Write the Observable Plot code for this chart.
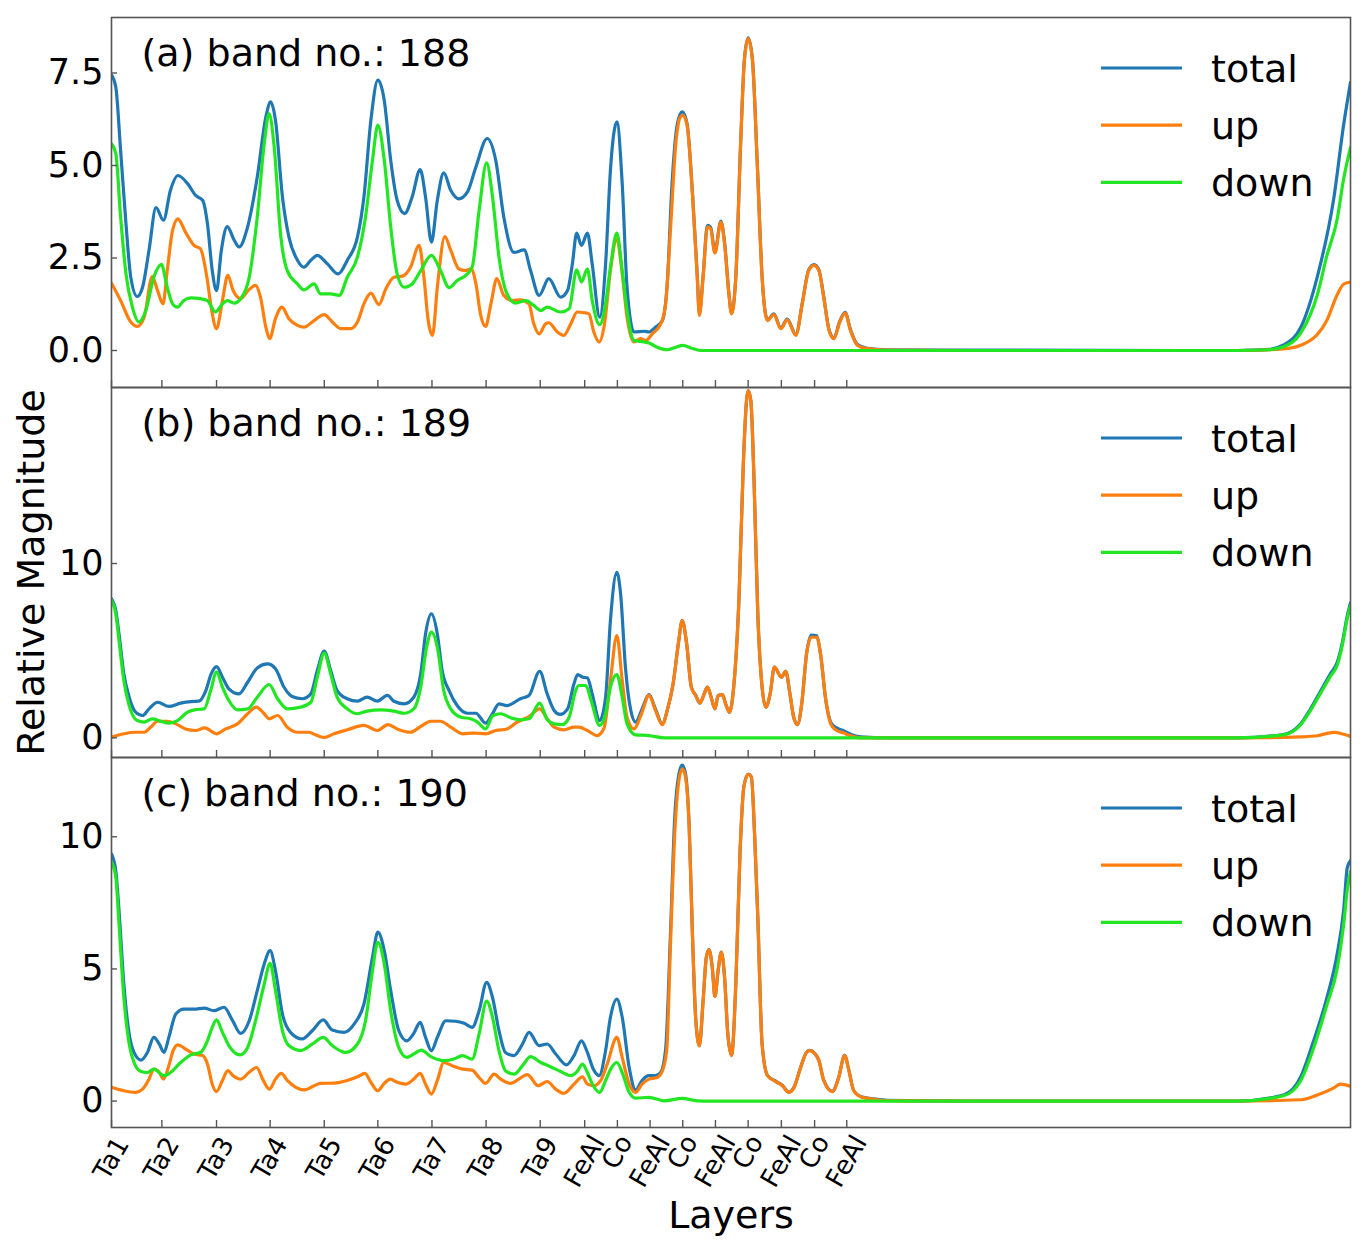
<!DOCTYPE html>
<html><head><meta charset="utf-8">
<script src="https://cdn.jsdelivr.net/npm/d3@7"></script>
<script src="https://cdn.jsdelivr.net/npm/@observablehq/plot@0.6"></script>
<style>
body{margin:0;background:#fff;}
#wrap{position:relative;width:1370px;height:1246px;overflow:hidden;}
#wrap svg{position:absolute;left:0;}
</style></head><body><div id="wrap"></div>
<script>
// x positions are in layer units (Ta spacing = 1)
const layerTicks = [0, 0.94, 1.96, 2.96, 3.97, 4.97, 5.98, 6.99, 8.0, 8.83, 9.44, 10.05, 10.66, 11.27, 11.88, 12.50, 13.12, 13.72];
const layerLabels = ["Ta1","Ta2","Ta3","Ta4","Ta5","Ta6","Ta7","Ta8","Ta9","FeAl","Co","FeAl","Co","FeAl","Co","FeAl","Co","FeAl"];
const seriesNames = ["total", "up", "down"];
const panelTitles = ["(a) band no.: 188", "(b) band no.: 189", "(c) band no.: 190"];
const yTicksA = [0, 2.5, 5, 7.5];
const yTicksB = [0, 10];
const yTicksC = [0, 5, 10];

const aTotal = [[0,7.45],[0.08,7.12],[0.17,5.41],[0.27,3.43],[0.36,1.98],[0.48,1.46],[0.58,1.71],[0.70,2.71],[0.83,3.86],[0.97,3.52],[1.10,4.33],[1.24,4.73],[1.42,4.51],[1.57,4.19],[1.70,4.06],[1.79,3.43],[1.88,2.16],[1.96,1.62],[2.05,2.71],[2.16,3.35],[2.29,2.98],[2.38,2.80],[2.54,3.34],[2.72,4.69],[2.88,6.31],[2.97,6.72],[3.06,6.22],[3.19,4.15],[3.31,3.07],[3.47,2.44],[3.59,2.25],[3.72,2.44],[3.84,2.57],[4.03,2.34],[4.23,2.07],[4.40,2.44],[4.59,3.07],[4.71,4.15],[4.84,6.22],[4.97,7.31],[5.09,6.76],[5.21,5.14],[5.33,4.06],[5.47,3.70],[5.61,4.15],[5.76,4.89],[5.86,4.15],[5.97,2.93],[6.08,4.06],[6.20,4.80],[6.33,4.33],[6.48,4.10],[6.64,4.28],[6.80,4.96],[7.01,5.73],[7.17,5.14],[7.32,3.61],[7.51,2.65],[7.70,2.72],[7.82,2.16],[7.98,1.49],[8.16,1.94],[8.38,1.44],[8.51,1.62],[8.60,2.34],[8.68,3.17],[8.77,2.84],[8.88,3.17],[8.97,2.34],[9.11,0.90],[9.22,2.34],[9.31,4.87],[9.43,6.18],[9.53,4.51],[9.62,1.71],[9.75,0.50],[9.94,0.52],[10.03,0.50],[10.15,0.63],[10.28,0.81],[10.37,1.80],[10.46,4.51],[10.56,6.13],[10.65,6.45],[10.74,6.13],[10.84,4.28],[10.93,2.03],[10.97,1.00],[11.04,2.03],[11.12,3.38],[11.18,3.33],[11.26,2.67],[11.37,3.50],[11.44,2.92],[11.52,1.56],[11.57,1.02],[11.65,2.00],[11.74,5.61],[11.81,7.87],[11.88,8.45],[11.96,7.87],[12.05,5.07],[12.14,2.00],[12.24,0.83],[12.36,0.99],[12.49,0.61],[12.61,0.85],[12.77,0.43],[12.89,1.28],[13.01,2.18],[13.11,2.32],[13.20,2.18],[13.29,1.46],[13.39,0.56],[13.48,0.34],[13.59,0.79],[13.69,1.03],[13.79,0.56],[13.92,0.16],[14.10,0.06],[14.48,0.02],[16,0.01],[20,0],[21.0,0],[21.6,0.03],[21.87,0.15],[22.19,0.62],[22.5,1.99],[22.81,4.13],[22.99,6.08],[23.12,7.25]];
const aUp = [[0,1.82],[0.17,1.35],[0.36,0.77],[0.48,0.65],[0.61,0.90],[0.76,2.00],[0.86,1.62],[0.96,1.26],[1.04,2.16],[1.14,3.25],[1.24,3.56],[1.38,3.20],[1.54,2.84],[1.66,2.75],[1.78,1.98],[1.87,1.08],[1.96,0.59],[2.07,1.35],[2.17,2.03],[2.27,1.62],[2.41,1.40],[2.55,1.62],[2.69,1.76],[2.78,1.44],[2.88,0.63],[2.95,0.32],[3.06,0.86],[3.18,1.17],[3.31,0.86],[3.47,0.68],[3.59,0.63],[3.78,0.81],[3.97,0.97],[4.12,0.77],[4.28,0.59],[4.46,0.59],[4.59,0.77],[4.71,1.26],[4.84,1.55],[4.99,1.24],[5.12,1.67],[5.27,1.98],[5.43,2.01],[5.58,2.25],[5.74,2.84],[5.83,1.98],[5.91,0.81],[5.99,0.41],[6.08,1.71],[6.22,3.08],[6.33,2.71],[6.48,2.21],[6.61,2.16],[6.71,2.21],[6.80,1.80],[6.89,0.95],[6.98,0.65],[7.08,1.26],[7.19,1.94],[7.32,1.49],[7.48,1.35],[7.63,1.37],[7.79,1.26],[7.88,0.72],[7.98,0.45],[8.10,0.72],[8.16,0.75],[8.32,0.50],[8.44,0.41],[8.57,0.72],[8.69,1.04],[8.82,1.02],[8.91,0.99],[9.00,0.50],[9.10,0.23],[9.20,0.72],[9.31,2.16],[9.43,3.02],[9.53,2.07],[9.62,0.90],[9.75,0.23],[9.87,0.32],[9.97,0.27],[10.09,0.45],[10.25,0.72],[10.34,1.26],[10.43,3.25],[10.53,5.59],[10.61,6.30],[10.66,6.36],[10.74,6.09],[10.84,4.24],[10.93,1.98],[10.97,0.95],[11.04,1.98],[11.12,3.34],[11.18,3.29],[11.26,2.63],[11.37,3.47],[11.44,2.89],[11.52,1.53],[11.57,0.99],[11.65,1.98],[11.74,5.59],[11.81,7.85],[11.88,8.43],[11.96,7.85],[12.05,5.05],[12.14,1.98],[12.24,0.81],[12.36,0.97],[12.49,0.59],[12.61,0.83],[12.77,0.41],[12.89,1.26],[13.01,2.16],[13.11,2.30],[13.20,2.16],[13.29,1.44],[13.39,0.54],[13.48,0.32],[13.59,0.77],[13.69,1.01],[13.79,0.54],[13.92,0.14],[14.10,0.05],[14.48,0.01],[16,0],[21.0,0],[21.87,0.04],[22.19,0.14],[22.5,0.43],[22.68,0.82],[22.87,1.50],[22.99,1.79],[23.12,1.85]];
const aDown = [[0,5.59],[0.08,5.32],[0.17,3.61],[0.27,2.07],[0.39,1.17],[0.51,0.77],[0.64,1.08],[0.79,1.98],[0.93,2.33],[1.04,1.71],[1.14,1.26],[1.23,1.17],[1.35,1.35],[1.48,1.42],[1.66,1.40],[1.79,1.35],[1.94,1.04],[2.07,1.26],[2.16,1.35],[2.29,1.28],[2.41,1.40],[2.57,1.98],[2.72,3.61],[2.85,5.59],[2.94,6.40],[3.03,5.59],[3.16,3.07],[3.28,2.16],[3.47,1.80],[3.59,1.64],[3.78,1.80],[3.90,1.53],[4.09,1.53],[4.25,1.49],[4.40,1.98],[4.59,2.53],[4.74,3.61],[4.87,5.14],[4.97,6.09],[5.09,5.14],[5.21,3.34],[5.33,2.07],[5.46,1.71],[5.61,1.80],[5.77,2.16],[5.97,2.57],[6.14,2.16],[6.30,1.70],[6.45,1.89],[6.61,2.03],[6.73,2.25],[6.86,3.79],[7.00,5.07],[7.11,4.15],[7.23,2.53],[7.38,1.53],[7.54,1.28],[7.73,1.35],[7.88,1.22],[8.01,1.08],[8.13,1.17],[8.38,1.04],[8.54,1.13],[8.68,2.18],[8.77,1.85],[8.88,2.21],[8.97,1.35],[9.11,0.70],[9.22,1.26],[9.31,2.25],[9.43,3.17],[9.53,2.16],[9.62,1.08],[9.75,0.27],[9.94,0.23],[10.03,0.20],[10.18,0.09],[10.37,0.02],[10.53,0.09],[10.66,0.14],[10.81,0.07],[10.99,0],[21.0,0],[21.6,0.02],[21.87,0.10],[22.19,0.47],[22.5,1.50],[22.68,2.57],[22.87,3.54],[22.99,4.62],[23.12,5.49]];

const bTotal = [[0,7.97],[0.08,7.30],[0.14,5.96],[0.23,3.67],[0.33,2.33],[0.45,1.47],[0.58,1.28],[0.70,1.66],[0.86,2.04],[1.07,1.80],[1.29,1.99],[1.48,2.08],[1.63,2.10],[1.76,2.71],[1.86,3.67],[1.96,4.09],[2.07,3.48],[2.19,2.81],[2.38,2.52],[2.54,3.19],[2.72,4.01],[2.91,4.24],[3.06,3.96],[3.22,2.90],[3.37,2.37],[3.56,2.24],[3.72,2.52],[3.84,3.86],[3.97,4.97],[4.09,3.86],[4.21,2.71],[4.40,2.24],[4.59,2.10],[4.77,2.33],[4.96,2.10],[5.15,2.43],[5.27,2.10],[5.46,1.95],[5.64,2.33],[5.77,3.67],[5.86,5.96],[5.97,7.11],[6.08,5.96],[6.17,3.86],[6.30,2.71],[6.45,1.85],[6.64,1.41],[6.80,1.41],[6.98,0.84],[7.11,1.38],[7.23,1.95],[7.38,1.85],[7.63,2.24],[7.79,2.43],[7.99,3.82],[8.13,2.52],[8.26,1.57],[8.37,1.34],[8.51,1.66],[8.63,3.10],[8.70,3.63],[8.79,3.48],[8.88,3.44],[8.97,2.52],[9.11,0.99],[9.22,2.33],[9.31,6.73],[9.43,9.50],[9.50,8.26],[9.59,4.05],[9.69,1.57],[9.78,0.90],[9.89,1.57],[10.03,2.48],[10.15,1.66],[10.28,0.80],[10.37,1.57],[10.48,3.10],[10.58,5.45],[10.65,6.73],[10.73,5.45],[10.82,2.91],[10.90,2.45],[10.98,1.99],[11.06,2.52],[11.12,2.91],[11.19,2.33],[11.26,1.66],[11.32,2.43],[11.40,2.48],[11.46,1.95],[11.53,1.47],[11.61,2.91],[11.71,8.07],[11.79,15.72],[11.85,19.35],[11.88,19.92],[11.93,19.35],[11.99,14.76],[12.06,7.11],[12.14,2.91],[12.21,1.76],[12.29,2.52],[12.37,4.05],[12.50,3.48],[12.58,3.82],[12.66,2.52],[12.73,1.18],[12.80,0.76],[12.88,1.95],[12.97,4.82],[13.06,5.90],[13.16,5.85],[13.23,4.82],[13.33,2.14],[13.42,0.90],[13.51,0.60],[13.67,0.40],[13.79,0.20],[13.98,0.05],[14.5,0],[21.0,0],[21.87,0.19],[22.19,0.80],[22.37,1.64],[22.56,2.67],[22.75,3.70],[22.87,4.32],[22.96,5.35],[23.06,7.00],[23.12,7.75]];
const bUp = [[0,0.04],[0.23,0.23],[0.42,0.32],[0.61,0.32],[0.73,0.61],[0.86,0.95],[1.04,0.95],[1.20,0.80],[1.38,0.51],[1.57,0.42],[1.74,0.57],[1.96,0.23],[2.13,0.51],[2.35,0.80],[2.54,1.38],[2.70,1.76],[2.85,1.38],[2.94,1.09],[3.10,1.28],[3.28,0.61],[3.47,0.32],[3.68,0.32],[3.84,0.13],[3.97,0.02],[4.15,0.23],[4.40,0.46],[4.71,0.71],[4.96,0.42],[5.16,0.76],[5.33,0.51],[5.58,0.32],[5.77,0.65],[5.96,0.95],[6.14,0.95],[6.33,0.61],[6.55,0.23],[6.76,0.27],[6.98,0.23],[7.17,0.42],[7.38,0.51],[7.57,0.90],[7.79,1.22],[7.99,1.66],[8.13,1.10],[8.26,0.61],[8.44,0.46],[8.63,0.61],[8.72,0.61],[8.88,0.42],[9.06,0.13],[9.19,0.55],[9.31,3.29],[9.43,5.87],[9.53,3.29],[9.62,1.18],[9.75,0.51],[9.89,1.38],[10.03,2.43],[10.15,1.57],[10.28,0.76],[10.37,1.57],[10.48,3.10],[10.58,5.45],[10.65,6.73],[10.73,5.45],[10.82,2.91],[10.90,2.43],[10.98,1.99],[11.06,2.52],[11.12,2.91],[11.19,2.33],[11.26,1.66],[11.32,2.43],[11.40,2.48],[11.46,1.95],[11.53,1.47],[11.61,2.91],[11.71,8.07],[11.79,15.72],[11.85,19.35],[11.88,19.92],[11.93,19.35],[11.99,14.76],[12.06,7.11],[12.14,2.91],[12.21,1.76],[12.29,2.52],[12.37,4.05],[12.50,3.48],[12.58,3.82],[12.66,2.52],[12.73,1.18],[12.80,0.76],[12.88,1.95],[12.97,4.82],[13.06,5.77],[13.16,5.77],[13.23,4.82],[13.33,2.14],[13.42,0.80],[13.51,0.46],[13.67,0.27],[13.79,0.11],[13.98,0],[21.0,0],[21.87,0.02],[22.19,0.05],[22.5,0.12],[22.81,0.31],[22.99,0.20],[23.12,0.08]];
const bDown = [[0,7.88],[0.08,7.11],[0.14,5.58],[0.23,3.29],[0.33,1.85],[0.48,0.99],[0.61,0.90],[0.76,1.09],[0.92,0.95],[1.07,0.84],[1.23,0.99],[1.42,1.47],[1.57,1.62],[1.73,1.66],[1.85,2.71],[1.96,3.77],[2.07,2.91],[2.19,2.14],[2.35,1.60],[2.54,1.66],[2.72,2.33],[2.94,3.06],[3.10,2.24],[3.28,1.66],[3.53,1.76],[3.72,2.04],[3.84,3.48],[3.97,4.86],[4.09,3.67],[4.21,2.33],[4.40,1.66],[4.59,1.38],[4.77,1.53],[5.02,1.60],[5.27,1.53],[5.46,1.41],[5.64,1.66],[5.77,2.91],[5.88,5.20],[5.97,6.06],[6.08,5.20],[6.20,2.71],[6.33,1.66],[6.52,1.18],[6.70,1.09],[6.83,0.90],[6.98,0.51],[7.12,1.28],[7.26,1.38],[7.45,1.15],[7.63,1.03],[7.79,1.09],[7.99,1.99],[8.13,1.05],[8.26,0.80],[8.41,0.76],[8.54,1.18],[8.66,2.71],[8.72,3.00],[8.85,3.00],[8.95,2.14],[9.11,0.71],[9.22,1.38],[9.31,2.91],[9.43,3.63],[9.53,2.33],[9.62,0.80],[9.78,0.17],[10.03,0.13],[10.31,0],[21.0,0],[21.87,0.17],[22.19,0.75],[22.37,1.55],[22.56,2.55],[22.75,3.55],[22.87,4.15],[22.96,5.20],[23.06,6.85],[23.12,7.60]];

const cTotal = [[0,9.35],[0.08,8.72],[0.14,7.21],[0.23,4.43],[0.33,2.54],[0.42,1.84],[0.55,1.55],[0.67,1.84],[0.79,2.41],[0.89,2.16],[0.98,1.84],[1.07,2.41],[1.20,3.29],[1.35,3.48],[1.54,3.48],[1.73,3.52],[1.91,3.42],[2.10,3.55],[2.26,3.04],[2.41,2.56],[2.57,3.04],[2.72,4.18],[2.85,5.19],[2.96,5.69],[3.06,4.93],[3.19,3.29],[3.34,2.60],[3.56,2.35],[3.75,2.67],[3.95,3.07],[4.12,2.69],[4.34,2.60],[4.53,2.92],[4.71,3.67],[4.87,5.44],[4.97,6.39],[5.09,5.69],[5.21,4.18],[5.36,2.67],[5.51,2.28],[5.64,2.56],[5.76,2.98],[5.86,2.41],[5.97,1.91],[6.08,2.41],[6.24,3.04],[6.42,3.02],[6.58,2.94],[6.73,2.79],[6.86,3.42],[7.00,4.49],[7.11,3.92],[7.23,2.67],[7.35,1.84],[7.51,1.72],[7.67,2.16],[7.79,2.60],[7.98,2.10],[8.13,2.16],[8.29,1.78],[8.49,1.37],[8.63,1.72],[8.77,2.28],[8.88,1.84],[8.99,1.21],[9.10,0.96],[9.22,1.91],[9.31,3.17],[9.43,3.86],[9.53,3.17],[9.66,1.27],[9.78,0.42],[9.90,0.78],[10.03,0.96],[10.15,0.96],[10.25,1.09],[10.34,1.95],[10.43,6.30],[10.51,10.74],[10.59,12.39],[10.65,12.71],[10.71,12.39],[10.78,10.38],[10.84,6.35],[10.90,3.18],[10.97,2.10],[11.04,3.81],[11.10,5.45],[11.15,5.73],[11.21,5.07],[11.26,3.96],[11.32,4.95],[11.38,5.64],[11.44,4.69],[11.50,2.55],[11.57,1.73],[11.65,4.44],[11.73,9.49],[11.80,11.89],[11.88,12.37],[11.94,12.27],[12.00,10.11],[12.06,6.96],[12.14,2.17],[12.24,0.97],[12.36,0.79],[12.52,0.59],[12.64,0.34],[12.73,0.50],[12.86,1.28],[12.97,1.85],[13.03,1.92],[13.12,1.81],[13.20,1.54],[13.29,0.79],[13.45,0.37],[13.57,0.90],[13.68,1.73],[13.76,1.16],[13.85,0.40],[14.01,0.15],[14.23,0.08],[14.48,0.03],[16,0],[21.0,0],[21.87,0.23],[22.19,0.91],[22.43,2.27],[22.68,3.91],[22.87,5.55],[22.99,7.19],[23.06,8.83],[23.12,9.10]];
const cUp = [[0,0.52],[0.23,0.39],[0.45,0.33],[0.58,0.45],[0.70,0.83],[0.79,1.21],[0.89,1.09],[0.97,0.83],[1.07,1.34],[1.15,1.91],[1.24,2.13],[1.38,1.97],[1.54,1.78],[1.70,1.72],[1.79,1.40],[1.88,0.64],[1.96,0.36],[2.07,0.78],[2.17,1.15],[2.27,0.96],[2.41,0.83],[2.57,1.09],[2.71,1.27],[2.82,0.83],[2.95,0.45],[3.06,0.83],[3.17,1.05],[3.28,0.78],[3.44,0.52],[3.59,0.42],[3.78,0.58],[3.90,0.67],[4.15,0.68],[4.40,0.78],[4.59,0.92],[4.73,1.05],[4.84,0.71],[4.97,0.39],[5.09,0.67],[5.20,0.83],[5.33,0.71],[5.49,0.64],[5.64,0.83],[5.76,1.05],[5.86,0.64],[5.97,0.26],[6.08,0.78],[6.20,1.46],[6.36,1.34],[6.55,1.21],[6.73,1.17],[6.86,0.89],[6.98,0.67],[7.14,1.02],[7.26,0.83],[7.45,0.67],[7.60,0.83],[7.76,1.00],[7.96,0.58],[8.13,0.74],[8.29,0.45],[8.44,0.29],[8.63,0.64],[8.79,0.92],[8.88,0.64],[9.00,0.58],[9.13,0.78],[9.25,1.40],[9.43,2.41],[9.53,1.65],[9.66,0.64],[9.78,0.33],[9.90,0.64],[10.03,0.83],[10.18,0.89],[10.28,1.15],[10.36,1.91],[10.43,5.90],[10.51,10.11],[10.58,12.01],[10.65,12.57],[10.71,12.26],[10.78,10.36],[10.84,6.33],[10.90,3.17],[10.97,2.09],[11.04,3.80],[11.10,5.44],[11.15,5.72],[11.21,5.06],[11.26,3.95],[11.32,4.94],[11.38,5.63],[11.44,4.68],[11.50,2.54],[11.57,1.72],[11.65,4.43],[11.73,9.48],[11.80,11.88],[11.88,12.36],[11.94,12.26],[12.00,10.11],[12.06,6.96],[12.14,2.16],[12.24,0.96],[12.36,0.78],[12.52,0.58],[12.64,0.33],[12.73,0.49],[12.86,1.27],[12.97,1.84],[13.03,1.91],[13.12,1.80],[13.20,1.53],[13.29,0.78],[13.45,0.36],[13.57,0.89],[13.68,1.72],[13.76,1.15],[13.85,0.39],[14.01,0.14],[14.23,0.07],[14.48,0.02],[16,0],[21.0,0],[22.19,0.05],[22.5,0.23],[22.81,0.50],[22.93,0.64],[23.12,0.56]];
const cDown = [[0,9.04],[0.08,8.47],[0.14,6.70],[0.23,3.93],[0.33,2.16],[0.42,1.46],[0.55,1.12],[0.67,1.08],[0.79,1.21],[0.98,0.96],[1.10,1.08],[1.29,1.46],[1.48,1.75],[1.66,1.84],[1.79,2.28],[1.88,2.79],[1.96,3.07],[2.07,2.60],[2.19,2.10],[2.40,1.75],[2.54,2.03],[2.72,3.30],[2.85,4.43],[2.96,5.21],[3.06,4.18],[3.19,2.66],[3.31,2.10],[3.53,1.91],[3.75,2.16],[3.95,2.41],[4.12,2.10],[4.37,1.84],[4.59,2.16],[4.74,3.04],[4.87,4.93],[4.97,6.01],[5.09,5.19],[5.21,3.42],[5.36,2.03],[5.51,1.65],[5.64,1.78],[5.78,1.93],[5.96,1.68],[6.20,1.53],[6.39,1.59],[6.55,1.72],[6.73,1.59],[6.86,2.54],[7.00,3.78],[7.11,3.17],[7.23,1.91],[7.35,1.15],[7.51,1.02],[7.67,1.34],[7.82,1.68],[8.01,1.46],[8.19,1.30],[8.38,1.12],[8.57,0.96],[8.69,1.12],[8.79,1.40],[8.88,1.08],[8.99,0.58],[9.11,0.33],[9.22,0.78],[9.33,1.27],[9.43,1.46],[9.53,1.08],[9.66,0.33],[9.78,0.11],[10.03,0.14],[10.31,0.01],[10.65,0.10],[10.93,0.01],[11.2,0],[21.0,0],[21.87,0.20],[22.19,0.77],[22.43,2.00],[22.68,3.64],[22.87,5.00],[22.99,6.64],[23.06,8.00],[23.12,8.68]];

const COLORS = {total: "#1f77b4", up: "#ff7f0e", down: "#22e622"};
const FONT = "DejaVu Sans";
const xDomain = [0, 23.12];

function legendMark() {
  return (index, scales, values, dims) => {
    const g = d3.create("svg:g");
    const right = dims.width - dims.marginRight;
    const top = dims.marginTop;
    seriesNames.forEach((name, i) => {
      const y = top + 51 + i * 57.2;
      g.append("line").attr("x1", right - 249).attr("x2", right - 168)
        .attr("y1", y).attr("y2", y).attr("stroke", COLORS[name]).attr("stroke-width", 3.2);
      g.append("text").attr("x", right - 139).attr("y", y + 14)
        .attr("text-anchor", "start")
        .attr("font-size", 38).attr("fill", "black").text(name);
    });
    return g.node();
  };
}

function toRows(arr) { return arr.map(([x, y]) => ({x, y})); }

function panel({title, total, up, down, yDomain, yTicks, yFmt, height, marginTop, marginBottom, extra = []}) {
  const lineOpts = {x: "x", y: "y", strokeWidth: 3.2, curve: "monotone-x", clip: true, strokeLinejoin: "round", strokeLinecap: "round"};
  return Plot.plot({
    width: 1370, height, marginLeft: 111, marginRight: 20, marginTop, marginBottom,
    style: {fontFamily: FONT, background: "transparent", overflow: "visible", color: "black"},
    x: {domain: xDomain, axis: null},
    y: {domain: yDomain, axis: null},
    marks: [
      Plot.line(toRows(total), {...lineOpts, stroke: COLORS.total}),
      Plot.line(toRows(up), {...lineOpts, stroke: COLORS.up}),
      Plot.line(toRows(down), {...lineOpts, stroke: COLORS.down}),
      Plot.frame({stroke: "#555", strokeWidth: 1.6}),
      Plot.axisX(layerTicks, {anchor: "bottom", tickSize: -7, tickFormat: () => "", stroke: "#555", strokeWidth: 1.4, label: null}),
      Plot.axisY(yTicks, {anchor: "left", tickSize: -6, tickFormat: () => "", stroke: "#555", strokeWidth: 1.4, label: null}),
      Plot.axisY(yTicks, {anchor: "left", tickSize: 0, tickPadding: 8, tickFormat: yFmt, fontSize: 35, label: null}),
      Plot.text([title], {frameAnchor: "top-left", dx: 30, dy: 21.7, lineAnchor: "top", textAnchor: "start", fontSize: 38}),
      legendMark(),
      ...extra
    ]
  });
}

const tickRows = layerTicks.map((x, i) => ({x, label: layerLabels[i]}));
const labelOpts = {x: "x", text: "label", frameAnchor: "bottom", rotate: -60, fontSize: 26, textAnchor: "middle", lineAnchor: "middle"};

const wrap = document.getElementById("wrap");
const pa = panel({title: panelTitles[0], total: aTotal, up: aUp, down: aDown, yDomain: [-1, 9], yTicks: yTicksA, yFmt: d3.format(".1f"), height: 387, marginTop: 17, marginBottom: 0});
pa.style.top = "0px";
const pb = panel({title: panelTitles[1], total: bTotal, up: bUp, down: bDown, yDomain: [-1.13, 20.1], yTicks: yTicksB, yFmt: d => String(d), height: 370, marginTop: 0, marginBottom: 0,
  extra: [Plot.text(["Relative Magnitude"], {frameAnchor: "left", dx: -80, rotate: -90, fontSize: 38, textAnchor: "middle", lineAnchor: "middle"})]});
pb.style.top = "387px";
const pc = panel({title: panelTitles[2], total: cTotal, up: cUp, down: cDown, yDomain: [-1, 13], yTicks: yTicksC, yFmt: d => String(d), height: 490, marginTop: 0, marginBottom: 120,
  extra: [
    Plot.text(tickRows.filter(d => d.label.startsWith("Ta")), {...labelOpts, dy: 31}),
    Plot.text(tickRows.filter(d => d.label === "FeAl"), {...labelOpts, dy: 34}),
    Plot.text(tickRows.filter(d => d.label === "Co"), {...labelOpts, dy: 24.6}),
    Plot.text(["Layers"], {frameAnchor: "bottom", dy: 88, fontSize: 38, textAnchor: "middle", lineAnchor: "middle"})
  ]});
pc.style.top = "757px";
wrap.appendChild(pa);
wrap.appendChild(pb);
wrap.appendChild(pc);
</script></body></html>
